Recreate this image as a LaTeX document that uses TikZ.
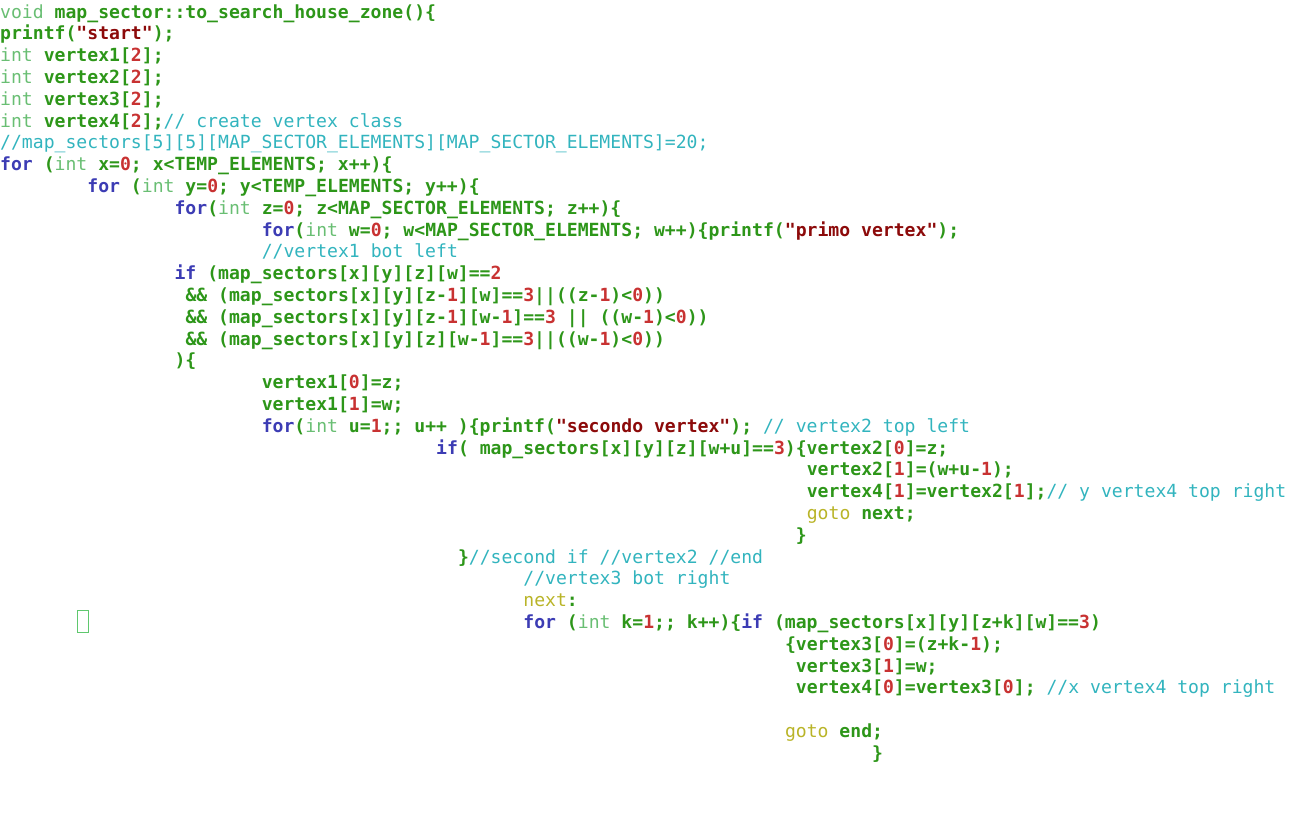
\documentclass[tikz,border=0pt]{standalone}
\usepackage{fontspec}
\setmonofont{DejaVu Sans Mono}
\definecolor{codegreen}{RGB}{45,150,25}
\definecolor{typegreen}{RGB}{105,190,115}
\definecolor{ctlblue}{RGB}{60,60,180}
\definecolor{numred}{RGB}{200,50,50}
\definecolor{strred}{RGB}{140,10,10}
\definecolor{cmtcyan}{RGB}{50,180,190}
\definecolor{jmpyellow}{RGB}{185,180,40}
\definecolor{boxgreen}{RGB}{95,200,110}
\newcommand{\ctype}[1]{\textcolor{typegreen}{\mdseries#1}}
\newcommand{\cctl}[1]{\textcolor{ctlblue}{#1}}
\newcommand{\cnum}[1]{\textcolor{numred}{#1}}
\newcommand{\cstr}[1]{\textcolor{strred}{#1}}
\newcommand{\ccmt}[1]{\textcolor{cmtcyan}{\mdseries#1}}
\newcommand{\cjmp}[1]{\textcolor{jmpyellow}{\mdseries#1}}
\begin{document}
\begin{tikzpicture}[x=1pt, y=1pt, codeline/.style={anchor=base west, inner sep=0pt, text=codegreen, font=\ttfamily\bfseries\fontsize{18.1}{21.8}\selectfont}]
\useasboundingbox (0,0) rectangle (1300,-838);

\node(L1) at (0,-18)[codeline]{\ctype{void} map\_sector::to\_search\_house\_zone()\{};
\node(L2) at (0,-39.8)[codeline]{printf(\cstr{"start"});};
\node(L3) at (0,-61.6)[codeline]{\ctype{int} vertex1[\cnum{2}];};
\node(L4) at (0,-83.4)[codeline]{\ctype{int} vertex2[\cnum{2}];};
\node(L5) at (0,-105.2)[codeline]{\ctype{int} vertex3[\cnum{2}];};
\node(L6) at (0,-127)[codeline]{\ctype{int} vertex4[\cnum{2}];\ccmt{// create vertex class}};
\node(L7) at (0,-148.8)[codeline]{\ccmt{//map\_sectors[5][5][MAP\_SECTOR\_ELEMENTS][MAP\_SECTOR\_ELEMENTS]=20;}};

\node(L8) at (0,-170.6)[codeline]{\cctl{for} (\ctype{int} x=\cnum{0}; x<TEMP\_ELEMENTS; x++)\{};
\node(L9) at (87.2,-192.4)[codeline]{\cctl{for} (\ctype{int} y=\cnum{0}; y<TEMP\_ELEMENTS; y++)\{};
\node(L10) at (174.4,-214.2)[codeline]{\cctl{for}(\ctype{int} z=\cnum{0}; z<MAP\_SECTOR\_ELEMENTS; z++)\{};
\node(L11) at (261.6,-236)[codeline]{\cctl{for}(\ctype{int} w=\cnum{0}; w<MAP\_SECTOR\_ELEMENTS; w++)\{printf(\cstr{"primo vertex"});};
\node(L12) at (261.6,-257.8)[codeline]{\ccmt{//vertex1 bot left}};

\node(L13) at (174.4,-279.6)[codeline]{\cctl{if} (map\_sectors[x][y][z][w]==\cnum{2}};
\node(L14) at (185.3,-301.4)[codeline]{\&\& (map\_sectors[x][y][z-\cnum{1}][w]==\cnum{3}||((z-\cnum{1})<\cnum{0}))};
\node(L15) at (185.3,-323.2)[codeline]{\&\& (map\_sectors[x][y][z-\cnum{1}][w-\cnum{1}]==\cnum{3} || ((w-\cnum{1})<\cnum{0}))};
\node(L16) at (185.3,-345)[codeline]{\&\& (map\_sectors[x][y][z][w-\cnum{1}]==\cnum{3}||((w-\cnum{1})<\cnum{0}))};
\node(L17) at (174.4,-366.8)[codeline]{)\{};

\node(L18) at (261.6,-388.6)[codeline]{vertex1[\cnum{0}]=z;};
\node(L19) at (261.6,-410.4)[codeline]{vertex1[\cnum{1}]=w;};
\node(L20) at (261.6,-432.2)[codeline]{\cctl{for}(\ctype{int} u=\cnum{1};; u++ )\{printf(\cstr{"secondo vertex"}); \ccmt{// vertex2 top left}};
\node(L21) at (436,-454)[codeline]{\cctl{if}( map\_sectors[x][y][z][w+u]==\cnum{3})\{vertex2[\cnum{0}]=z;};
\node(L22) at (806.6,-475.8)[codeline]{vertex2[\cnum{1}]=(w+u-\cnum{1});};
\node(L23) at (806.6,-497.6)[codeline]{vertex4[\cnum{1}]=vertex2[\cnum{1}];\ccmt{// y vertex4 top right}};
\node(L24) at (806.6,-519.4)[codeline]{\cjmp{goto} next;};
\node(L25) at (795.7,-541.2)[codeline]{\}};
\node(L26) at (457.8,-563)[codeline]{\}\ccmt{//second if //vertex2 //end}};

\node(L27) at (523.2,-584.8)[codeline]{\ccmt{//vertex3 bot right}};
\node(L28) at (523.2,-606.6)[codeline]{\cjmp{next}:};
\node(L29) at (523.2,-628.4)[codeline]{\cctl{for} (\ctype{int} k=\cnum{1};; k++)\{\cctl{if} (map\_sectors[x][y][z+k][w]==\cnum{3})};
\node(L30) at (784.8,-650.2)[codeline]{\{vertex3[\cnum{0}]=(z+k-\cnum{1});};
\node(L31) at (795.7,-672)[codeline]{vertex3[\cnum{1}]=w;};
\node(L32) at (795.7,-693.8)[codeline]{vertex4[\cnum{0}]=vertex3[\cnum{0}]; \ccmt{//x vertex4 top right}};
\node(L34) at (784.8,-737.4)[codeline]{\cjmp{goto} end;};
\node(L35) at (872,-759.2)[codeline]{\}};

\node(T) at (83,-621.5)[draw=boxgreen, line width=1.2pt, minimum width=11pt, minimum height=22pt, inner sep=0pt]{};

\end{tikzpicture}
\end{document}
